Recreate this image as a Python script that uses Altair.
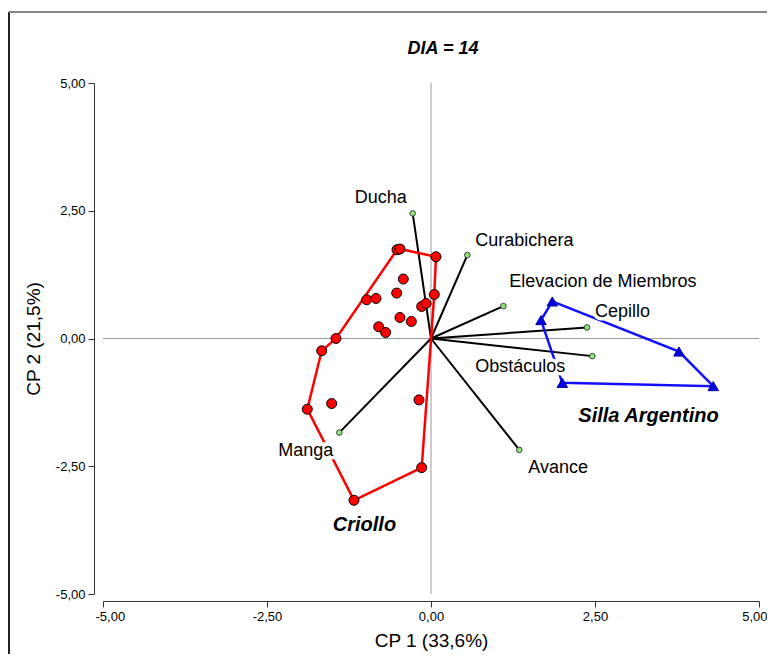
import altair as alt
import pandas as pd

FONT = "Liberation Sans"

# --- data ---
criollo_x = [-0.518, -0.473, 0.076, -0.422, -0.523, -0.980, -0.838, 0.050, -0.142, -0.076,
             -0.473, -0.300, -0.797, -0.691, -1.448, -1.666, -1.886, -1.514, -0.183, -0.142, -1.174]
criollo_y = [1.737, 1.751, 1.600, 1.164, 0.889, 0.758, 0.784, 0.862, 0.627, 0.686,
             0.411, 0.333, 0.229, 0.118, 0.000, -0.241, -1.383, -1.273, -1.201, -2.527, -3.166]
criollo_hull = [1, 2, 7, 19, 20, 16, 15, 14, 0, 1]

silla_x = [1.849, 1.677, 3.780, 4.303, 2.002]
silla_y = [0.725, 0.360, -0.255, -0.932, -0.868]
silla_hull = [0, 2, 3, 4, 1, 0]

var_names = ["Ducha", "Curabichera", "Elevacion de Miembros", "Cepillo",
             "Obstáculos", "Avance", "Manga"]
var_x = [-0.279, 0.554, 1.103, 2.378, 2.459, 1.346, -1.398]
var_y = [2.449, 1.633, 0.634, 0.216, -0.345, -2.180, -1.841]

group_names = ["Criollo", "Silla Argentino"]
group_label_x = [-1.014, 3.316]
group_label_y = [-3.649, -1.514]

tick_values = [-5, -2.5, 0, 2.5, 5]
title_text = "DIA = 14"

# label placement (align, dx, dy) relative to each vector end
label_style = {
    "Ducha": ("right", -6, -15),
    "Curabichera": ("left", 8, -14),
    "Elevacion de Miembros": ("left", 6, -24),
    "Cepillo": ("left", 8, -15),
    "Obstáculos": ("right", -27, 11),
    "Avance": ("left", 9, 18),
    "Manga": ("right", -6, 18),
}

# --- tables ---
pts_c = pd.DataFrame({"x": criollo_x, "y": criollo_y})
pts_s = pd.DataFrame({"x": silla_x, "y": silla_y})
hull = pd.DataFrame(
    [{"x": criollo_x[i], "y": criollo_y[i], "o": k, "g": "Criollo"} for k, i in enumerate(criollo_hull)]
    + [{"x": silla_x[i], "y": silla_y[i], "o": k, "g": "Silla Argentino"} for k, i in enumerate(silla_hull)]
)
vec = pd.DataFrame({"name": var_names, "x": var_x, "y": var_y, "x0": 0.0, "y0": 0.0})
groups = pd.DataFrame({"name": group_names, "x": group_label_x, "y": group_label_y})
zero = pd.DataFrame({"v": [0.0]})
title_df = pd.DataFrame({"t": [title_text]})

scale = alt.Scale(domain=[-5, 5], nice=False, zero=False)
label_expr = "(datum.value < 0 ? '-' : '') + replace(format(abs(datum.value), '.2f'), '.', ',')"
common_axis = dict(values=tick_values, labelExpr=label_expr, grid=False,
                   tickSize=6, domainColor="#333333", tickColor="#333333",
                   labelFont=FONT, labelFontSize=13, labelColor="black",
                   titleFont=FONT, titleFontSize=19, titleFontWeight="normal",
                   titleColor="black", labelPadding=3)
xaxis = alt.Axis(offset=7, titlePadding=8, labelFlush=True, labelFlushOffset=8, **common_axis)
yaxis = alt.Axis(offset=9, titlePadding=12, labelFlush=False, **common_axis)


def X(f):
    return alt.X(f, type="quantitative", scale=scale, axis=xaxis, title="CP 1 (33,6%)")


def Y(f):
    return alt.Y(f, type="quantitative", scale=scale, axis=yaxis, title="CP 2 (21,5%)")


vline = alt.Chart(zero).mark_rule(color="#9a9a9a", strokeWidth=1).encode(x=X("v"))
hline = alt.Chart(zero).mark_rule(color="#9a9a9a", strokeWidth=1).encode(y=Y("v"))

vectors = alt.Chart(vec).mark_rule(color="black", strokeWidth=2).encode(
    x=X("x0"), y=Y("y0"), x2="x", y2="y")
ends = alt.Chart(vec).mark_point(filled=True, fill="#8fe37a", stroke="#222222",
                                  strokeWidth=0.8, size=32, opacity=1, shape="circle").encode(
    x=X("x"), y=Y("y"))

hulls = alt.Chart(hull).mark_line(strokeWidth=2.5).encode(
    x=X("x"), y=Y("y"), order="o:Q",
    color=alt.Color("g:N", scale=alt.Scale(domain=group_names, range=["#ff0000", "#1010ff"]),
                    legend=None))

red = alt.Chart(pts_c).mark_point(filled=True, fill="#ff0000", stroke="black", strokeWidth=1,
                                  size=100, opacity=1, shape="circle").encode(x=X("x"), y=Y("y"))
blue = alt.Chart(pts_s).mark_point(filled=True, fill="#0000e0", stroke="#0000a0", strokeWidth=1,
                                   size=110, opacity=1, shape="triangle-up").encode(x=X("x"), y=Y("y"))

layers = [vline, hline, vectors, ends, hulls, red, blue]

for name in var_names:
    al, dx, dy = label_style[name]
    sub = alt.Chart(vec[vec["name"] == name])
    for halo in (True, False):
        kw = dict(align=al, baseline="middle", dx=dx, dy=dy, font=FONT, fontSize=18, color="black")
        if halo:
            kw.update(stroke="white", strokeWidth=7, color="white")
        layers.append(sub.mark_text(**kw).encode(x=X("x"), y=Y("y"), text="name:N"))

layers.append(alt.Chart(groups).mark_text(
    font=FONT, fontSize=20, fontWeight="bold", fontStyle="italic", color="black",
    baseline="middle", align="center").encode(x=X("x"), y=Y("y"), text="name:N"))

# chart title (drawn as text so the outer frame does not push it away)
layers.append(alt.Chart(title_df).mark_text(
    font=FONT, fontSize=18, fontWeight="bold", fontStyle="italic", color="black",
    align="center", baseline="alphabetic").encode(
    x=alt.value(340), y=alt.value(-29), text="t:N"))

# outer frame of the original figure
layers.append(alt.Chart(zero).mark_rule(color="#222222", strokeWidth=2).encode(
    x=alt.value(-94), y=alt.value(-71), y2=alt.value(700)))
layers.append(alt.Chart(zero).mark_rule(color="#888888", strokeWidth=2).encode(
    x=alt.value(-94), x2=alt.value(800), y=alt.value(-71)))

chart = alt.layer(*layers).properties(
    width=656, height=511,
    autosize=alt.AutoSizeParams(type="none"),
    padding={"left": 95, "top": 75, "right": 8, "bottom": 60},
).configure_view(stroke=None)

chart.save("out.html", embed_options={"renderer": "svg", "actions": False})
